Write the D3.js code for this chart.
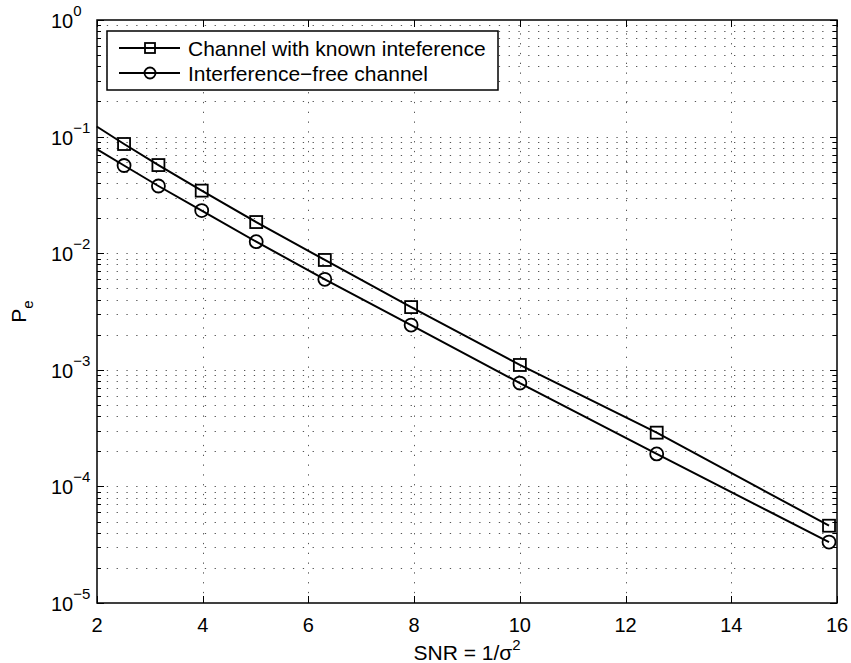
<!DOCTYPE html>
<html>
<head>
<meta charset="utf-8">
<script src="https://cdn.jsdelivr.net/npm/d3@7"></script>
<style>
  body { margin: 0; background: #fff; }
  text { font-family: "Liberation Sans", Arial, Helvetica, sans-serif; fill: #000; }
</style>
</head>
<body>
<svg id="chart" width="851" height="663"></svg>
<script>
// SNR values (linear), first point has no marker
const snr = [1.995, 2.512, 3.162, 3.981, 5.012, 6.310, 7.943, 10.0, 12.589, 15.849];
const knownIntf = [0.122, 0.0864, 0.057, 0.0344, 0.0185, 0.00875, 0.00345, 0.0011, 2.89e-4, 4.6e-5];
const intfFree = [0.078, 0.0565, 0.0377, 0.0232, 0.01256, 0.00597, 0.00242, 7.7e-4, 1.9e-4, 3.33e-5];
const xTicks = [2, 4, 6, 8, 10, 12, 14, 16];
const yExps = [0, -1, -2, -3, -4, -5];
const seriesNames = ["Channel with known inteference", "Interference\u2212free channel"];

const svg = d3.select("#chart");
const m = { left: 97, right: 837, top: 20, bottom: 603 };

const x = d3.scaleLinear().domain([2, 16]).range([m.left, m.right]);
const y = d3.scaleLog().domain([1e-5, 1]).range([m.bottom, m.top]);

svg.append("rect").attr("width", 851).attr("height", 663).attr("fill", "#fff");

// minor + major log ticks
const yAll = [];
for (let e = -5; e < 0; e++) {
  for (let k = 1; k < 10; k++) yAll.push(k * Math.pow(10, e));
}
yAll.push(1);

// grid
const grid = svg.append("g").attr("stroke", "#555").attr("stroke-width", 1)
  .attr("stroke-dasharray", "1.3,8.5");
grid.selectAll("line.h").data(yAll.filter(v => v > 1e-5 && v < 1)).enter().append("line")
  .attr("x1", m.left).attr("x2", m.right)
  .attr("y1", d => Math.round(y(d)) + 0.5).attr("y2", d => Math.round(y(d)) + 0.5);
grid.selectAll("line.v").data(xTicks.slice(1, -1)).enter().append("line")
  .attr("y1", m.bottom).attr("y2", m.top)
  .attr("x1", d => Math.round(x(d)) + 0.5).attr("x2", d => Math.round(x(d)) + 0.5);

// ticks
const ticks = svg.append("g").attr("stroke", "#000").attr("stroke-width", 1);
xTicks.forEach(t => {
  const px = Math.round(x(t)) + 0.5;
  ticks.append("line").attr("x1", px).attr("x2", px).attr("y1", m.bottom).attr("y2", m.bottom - 7);
  ticks.append("line").attr("x1", px).attr("x2", px).attr("y1", m.top).attr("y2", m.top + 7);
});
yAll.forEach(v => {
  const major = Math.abs(Math.log10(v) - Math.round(Math.log10(v))) < 1e-9;
  const len = major ? 7 : 4;
  const py = Math.round(y(v)) + 0.5;
  ticks.append("line").attr("x1", m.left).attr("x2", m.left + len).attr("y1", py).attr("y2", py);
  ticks.append("line").attr("x1", m.right).attr("x2", m.right - len).attr("y1", py).attr("y2", py);
});

// tick labels
svg.append("g").selectAll("text").data(xTicks).enter().append("text")
  .attr("x", d => x(d)).attr("y", 632)
  .attr("text-anchor", "middle").style("font-size", "20px")
  .text(d => d);

const yl = svg.append("g").selectAll("text").data(yExps).enter().append("text")
  .attr("x", 51).attr("y", d => y(Math.pow(10, d)) + 8)
  .style("font-size", "20px");
yl.append("tspan").text("10");
yl.append("tspan").attr("dy", -12).style("font-size", "15px")
  .text(d => d === 0 ? "0" : "\u2212" + (-d));

// series
const line = d3.line().x((d, i) => x(snr[i])).y(d => y(d));
const plot = svg.append("g");
[knownIntf, intfFree].forEach((vals, s) => {
  plot.append("path").datum(vals).attr("d", line)
    .attr("fill", "none").attr("stroke", "#000").attr("stroke-width", 2);
  const pts = vals.slice(1).map((v, i) => ({ x: snr[i + 1], v }));
  if (s === 0) {
    plot.selectAll(null).data(pts).enter().append("rect")
      .attr("x", d => x(d.x) - 6).attr("y", d => y(d.v) - 6)
      .attr("width", 12).attr("height", 12)
      .attr("fill", "none").attr("stroke", "#000").attr("stroke-width", 1.8);
  } else {
    plot.selectAll(null).data(pts).enter().append("circle")
      .attr("cx", d => x(d.x)).attr("cy", d => y(d.v)).attr("r", 6.5)
      .attr("fill", "none").attr("stroke", "#000").attr("stroke-width", 1.8);
  }
});

// axes box
svg.append("rect").attr("x", m.left).attr("y", m.top)
  .attr("width", m.right - m.left).attr("height", m.bottom - m.top)
  .attr("fill", "none").attr("stroke", "#000").attr("stroke-width", 1.5);

// legend
const lg = svg.append("g");
lg.append("rect").attr("x", 107).attr("y", 31).attr("width", 391).attr("height", 59)
  .attr("fill", "#fff").attr("stroke", "#000").attr("stroke-width", 1.5);
seriesNames.forEach((name, i) => {
  const ry = 48 + i * 25;
  lg.append("line").attr("x1", 119).attr("x2", 180).attr("y1", ry).attr("y2", ry)
    .attr("stroke", "#000").attr("stroke-width", 2);
  if (i === 0) {
    lg.append("rect").attr("x", 145).attr("y", ry - 5).attr("width", 10).attr("height", 10)
      .attr("fill", "none").attr("stroke", "#000").attr("stroke-width", 1.8);
  } else {
    lg.append("circle").attr("cx", 150).attr("cy", ry).attr("r", 5.5)
      .attr("fill", "none").attr("stroke", "#000").attr("stroke-width", 1.8);
  }
  lg.append("text").attr("x", 188).attr("y", ry + 7.5).style("font-size", "21px").text(name);
});

// axis labels
const xl = svg.append("text").attr("x", x(9)).attr("y", 660)
  .attr("text-anchor", "middle").style("font-size", "21px");
xl.append("tspan").text("SNR = 1/\u03c3");
xl.append("tspan").attr("dy", -10).style("font-size", "15px").text("2");

const ylab = svg.append("text")
  .attr("transform", `translate(26,${(m.top + m.bottom) / 2}) rotate(-90)`)
  .attr("text-anchor", "middle").style("font-size", "21px");
ylab.append("tspan").text("P");
ylab.append("tspan").attr("dy", 7).style("font-size", "15px").text("e");
</script>
</body>
</html>
